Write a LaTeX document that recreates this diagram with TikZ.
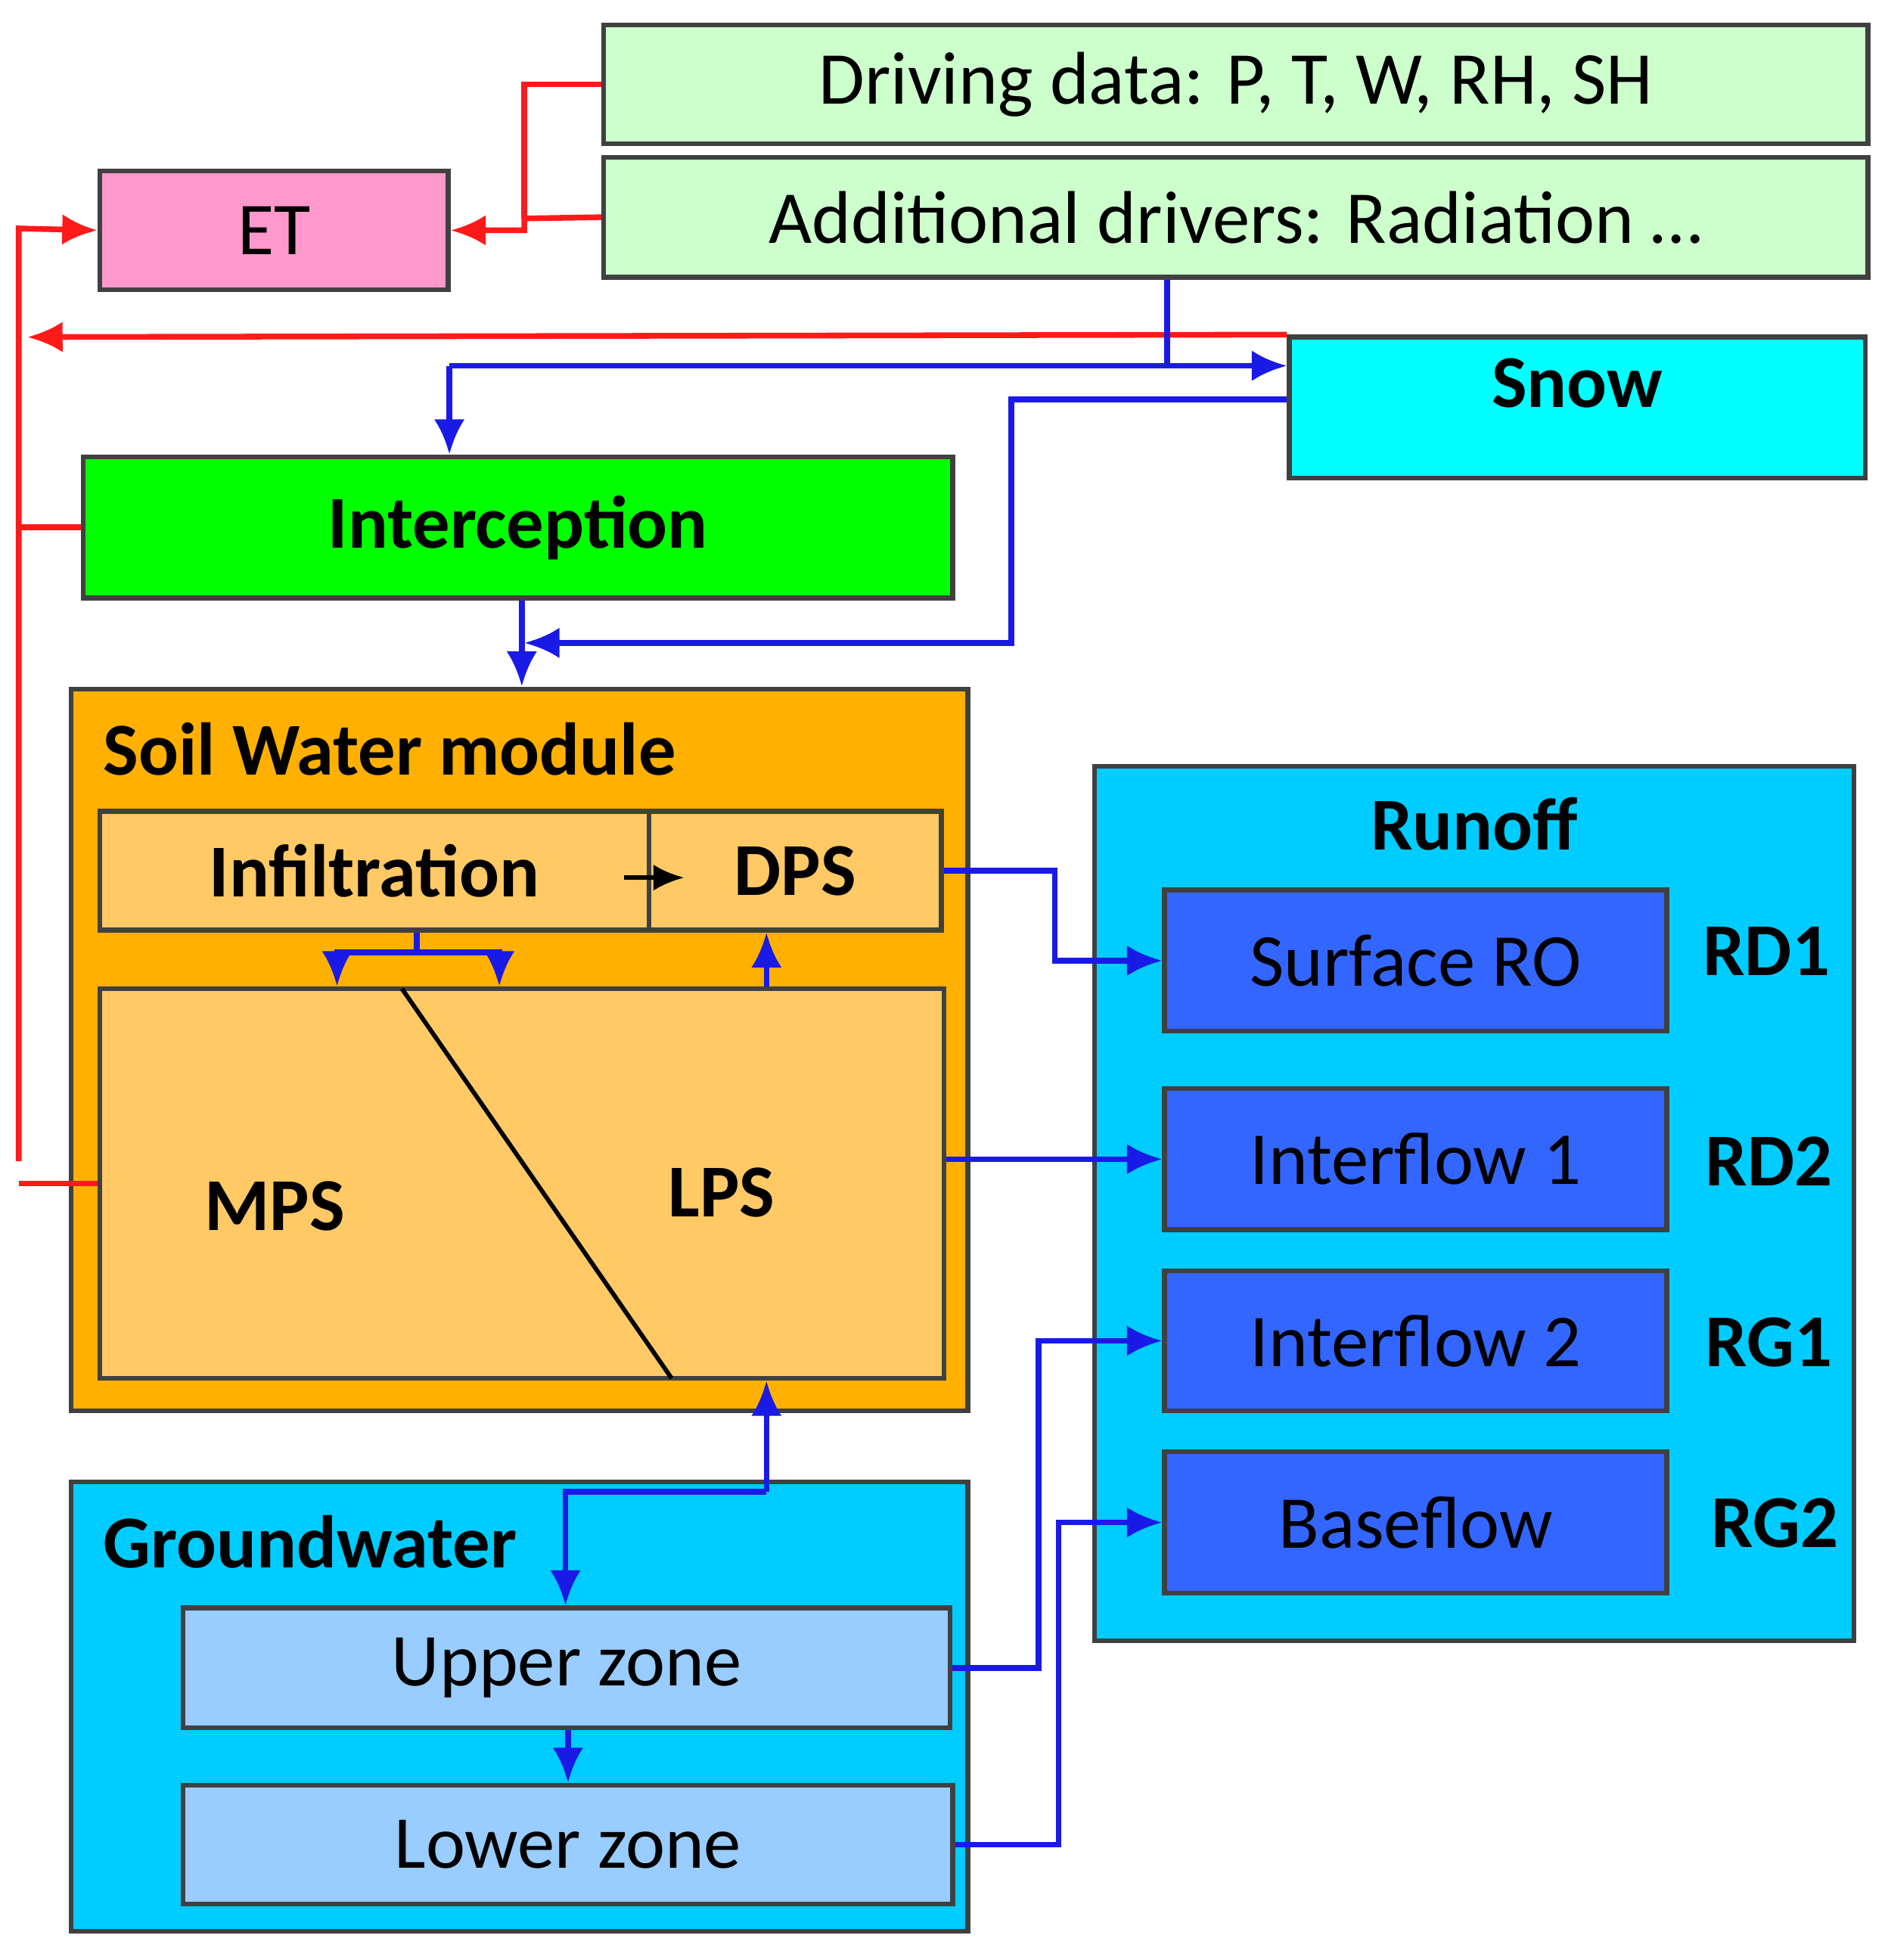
\documentclass[tikz,border=0pt]{standalone}
\usepackage{fontspec}
\setmainfont{Carlito}
\usetikzlibrary{arrows.meta}
\definecolor{lgreen}{HTML}{CCFFCC}
\definecolor{pinkc}{HTML}{FF99CC}
\definecolor{snowc}{HTML}{00FFFF}
\definecolor{greenc}{HTML}{00FF00}
\definecolor{orangec}{HTML}{FFB000}
\definecolor{lorange}{HTML}{FFC966}
\definecolor{skyc}{HTML}{00CCFF}
\definecolor{lblue}{HTML}{99CCFF}
\definecolor{bluec}{HTML}{3366FF}
\definecolor{redc}{HTML}{FF1A1A}
\definecolor{bluel}{HTML}{1A1AE6}
\definecolor{edge}{HTML}{404040}
\tikzset{
  box/.style={draw=edge,line width=1.1pt,inner sep=0pt,font=\fontsize{17}{20}\selectfont},
  bbox/.style={box,font=\fontsize{17}{20}\selectfont\bfseries},
  lab/.style={inner sep=0pt,font=\fontsize{17}{20}\selectfont\bfseries},
  rl/.style={draw=redc,line width=1.3pt},
  bl/.style={draw=bluel,line width=1.3pt},
  tip/.style={-{Latex[length=8pt,width=7pt]}},
}
\begin{document}
\begin{tikzpicture}[x=0.01cm,y=-0.01cm]
\useasboundingbox (0,0) rectangle (1512,1570);
\node[box,fill=lgreen,minimum width=10.12cm,minimum height=0.95cm] (dd) at (990,67.5) {Driving data: P, T, W, RH, SH};
\node[box,fill=lgreen,minimum width=10.12cm,minimum height=0.96cm] (ad) at (990,174) {Additional drivers: Radiation \dots};
\node[box,fill=pinkc,minimum width=2.79cm,minimum height=0.95cm] (et) at (219.5,184.5) {ET};
\node[bbox,fill=snowc,minimum width=4.61cm,minimum height=1.13cm,text depth=0.4cm] (snow) at (1263.5,326.5) {Snow};
\node[bbox,fill=greenc,minimum width=6.96cm,minimum height=1.13cm] (inter) at (415,422.5) {Interception};
\node[box,fill=orangec,minimum width=7.18cm,minimum height=5.78cm] (soil) at (416,841) {};
\node[lab,anchor=west] (soillab) at (82,600) {Soil Water module};
\node[bbox,fill=lorange,minimum width=4.40cm,minimum height=0.95cm] (inf) at (300,697.5) {Infiltration};
\node[bbox,fill=lorange,minimum width=2.34cm,minimum height=0.95cm] (dps) at (637,697.5) {DPS};
\node[box,fill=lorange,minimum width=6.76cm,minimum height=3.12cm] (pore) at (418,948) {};
\draw[line width=1pt] (322,792) -- (538,1104);
\node[lab] (mps) at (220,966) {MPS};
\node[lab] (lps) at (578,955) {LPS};
\node[box,fill=skyc,minimum width=7.18cm,minimum height=3.60cm] (gw) at (416,1367) {};
\node[lab,anchor=west] (gwlab) at (82,1235) {Groundwater};
\node[box,fill=lblue,minimum width=6.14cm,minimum height=0.96cm] (uz) at (454,1336) {Upper zone};
\node[box,fill=lblue,minimum width=6.16cm,minimum height=0.95cm] (lz) at (455,1477.5) {Lower zone};
\node[box,fill=skyc,minimum width=6.08cm,minimum height=7.00cm] (ro) at (1181,964) {};
\node[lab] (rolab) at (1181,660) {Runoff};
\node[box,fill=bluec,minimum width=4.02cm,minimum height=1.13cm] (sro) at (1134,769.5) {Surface RO};
\node[box,fill=bluec,minimum width=4.02cm,minimum height=1.13cm] (if1) at (1134,928.5) {Interflow 1};
\node[box,fill=bluec,minimum width=4.02cm,minimum height=1.12cm] (if2) at (1134,1074) {Interflow 2};
\node[box,fill=bluec,minimum width=4.02cm,minimum height=1.13cm] (bf) at (1134,1219.5) {Baseflow};
\node[lab] (rd1) at (1415,762) {RD1};
\node[lab] (rd2) at (1417,930) {RD2};
\node[lab] (rg1) at (1417,1075) {RG1};
\node[lab] (rg2) at (1422,1220) {RG2};
% red connectors
\coordinate (rj) at (420,175);
\draw[rl] (dd.west) -- (420,67.5) -- (420,175);
\draw[rl,tip] (ad.west) -- (rj) |- (et.east);
\coordinate (rx) at (22,270);
\draw[rl,tip] (snow.north west) -- (rx);
\coordinate (rtop) at (15,183);
\draw[rl,tip] (15,930) -- (rtop) -- (et.west);
\draw[rl] (inter.west) -- (15,422.5);
\draw[rl] (pore.west) -- (15,948);
% blue connectors
\coordinate (bj) at (935,293);
\draw[bl] (ad.south -| bj) -- (bj);
\draw[bl,tip] (360,293) -- (snow.west |- bj);
\draw[bl,tip] (360,293) -- (inter.north -| 360,0);
\coordinate (sj) at (420,515);
\draw[bl,tip] (snow.west |- 0,320) -- (810,320) -- (810,515) -- (sj);
\draw[bl,tip] (inter.south -| 418,0) -- (soil.north -| 418,0);
\draw[bl] (inf.south -| 334,0) -- (334,763);
\draw[bl,tip] (334,763) -- (270,763) -- (pore.north -| 270,0);
\draw[bl,tip] (334,763) -- (400,763) -- (pore.north -| 400,0);
\draw[line width=1pt,-{Latex[length=7pt,width=6pt]}] (500,703) -- (548,703);
\draw[bl,tip] (pore.north -| 614,0) -- (dps.south -| 614,0);
\draw[bl,tip] (dps.east) -- (845,697.5) |- (sro.west);
\draw[bl,tip] (pore.east |- if1) -- (if1.west);
\draw[bl,tip] (614,1195) -- (pore.south -| 614,0);
\draw[bl,tip] (614,1195) -- (453,1195) -- (uz.north -| 453,0);
\draw[bl,tip] (uz.south -| 455,0) -- (lz.north -| 455,0);
\draw[bl,tip] (uz.east) -- (832,1336) |- (if2.west);
\draw[bl,tip] (lz.east) -- (848,1477.5) |- (bf.west);
\end{tikzpicture}
\end{document}
